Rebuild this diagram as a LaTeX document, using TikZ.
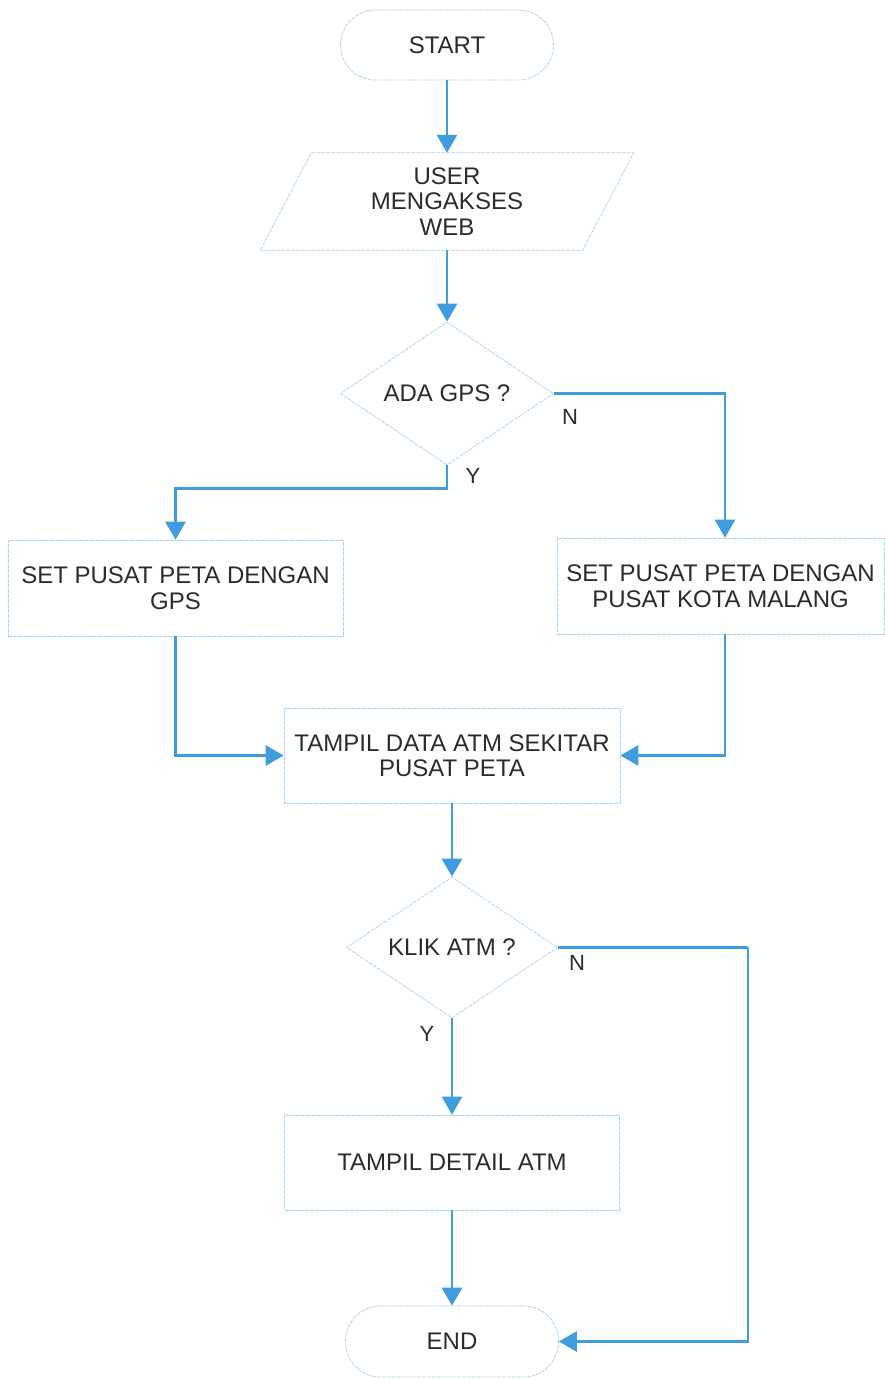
\documentclass[tikz,border=0pt]{standalone}
\usepackage{fontspec}
\setmainfont{Liberation Sans}
\usetikzlibrary{shapes.geometric,arrows.meta,calc}
\definecolor{flowblue}{HTML}{3F9DDE}
\definecolor{edgeblue}{HTML}{A9D3EE}
\definecolor{txt}{HTML}{2B2B2B}
\tikzset{
  base/.style={draw=edgeblue, line width=0.7pt, dash pattern=on 4pt off 1pt, text=txt,
    font=\fontsize{24}{25.5}\selectfont, align=center, inner sep=0pt},
  term/.style={base, rectangle, rounded corners=35pt},
  proc/.style={base, rectangle},
  dec/.style={base, diamond, aspect=1.5},
  iobox/.style={text=txt, font=\fontsize{24}{25.5}\selectfont, align=center, inner sep=0pt},
  conn/.style={draw=flowblue, line width=2.8pt, -{Triangle[width=20pt,length=18pt]}},
  connplain/.style={draw=flowblue, line width=2.8pt},
  lab/.style={text=txt, font=\fontsize{22}{24}\selectfont, inner sep=0pt}
}
\begin{document}
\begin{tikzpicture}[x=1pt,y=-1pt]
\useasboundingbox (0,0) rectangle (885,1379);
\node[term, minimum width=213pt, minimum height=70pt] (start) at (447,45) {START};
\node[iobox, minimum width=322pt, minimum height=97pt] (in) at (447,201.5) {USER\\MENGAKSES\\WEB};
\draw[base] ([xshift=25.5pt]in.north west) -- ([xshift=25.5pt]in.north east)
  -- ([xshift=-25.5pt]in.south east) -- ([xshift=-25.5pt]in.south west) -- cycle;
\node[dec, minimum width=213pt, minimum height=143pt] (gps) at (447,393.5) {ADA GPS ?};
\node[proc, minimum width=335pt, minimum height=96pt] (setgps) at (175.5,588) {SET PUSAT PETA DENGAN\\GPS};
\node[proc, minimum width=327pt, minimum height=96pt] (setmlg) at (720.5,586) {SET PUSAT PETA DENGAN\\PUSAT KOTA MALANG};
\node[proc, minimum width=336pt, minimum height=95pt] (tampil) at (452,755.5) {TAMPIL DATA ATM SEKITAR\\PUSAT PETA};
\node[dec, minimum width=211pt, minimum height=141pt] (klik) at (452,947.5) {KLIK ATM ?};
\node[proc, minimum width=335pt, minimum height=95pt] (detail) at (452,1162.5) {TAMPIL DETAIL ATM};
\node[term, minimum width=213pt, minimum height=71pt] (end) at (452,1341.5) {END};
\coordinate (kr) at (748,947.5);
\coordinate (mlgin) at ([xshift=4.5pt]setmlg.north);
\coordinate (mlgout) at ([xshift=4.5pt]setmlg.south);

\draw[conn] (start.south) -- (in.north);
\draw[conn] (in.south) -- (gps.north);
\draw[conn] (gps.south) -- ++(0,23) -| (setgps.north);
\draw[conn] (gps.east) -| (mlgin);
\draw[conn] (setgps.south) |- (tampil.west);
\draw[conn] (mlgout) |- (tampil.east);
\draw[conn] (tampil.south) -- (klik.north);
\draw[conn] (klik.south) -- (detail.north);
\draw[conn] (detail.south) -- (end.north);
\draw[connplain] (klik.east) -- (kr);
\draw[conn] (kr) |- (end.east);

\node[lab] (y1) at (473,476) {Y};
\node[lab] (n1) at (570,417) {N};
\node[lab] (n2) at (577,963) {N};
\node[lab] (y2) at (427,1034) {Y};
\end{tikzpicture}
\end{document}
